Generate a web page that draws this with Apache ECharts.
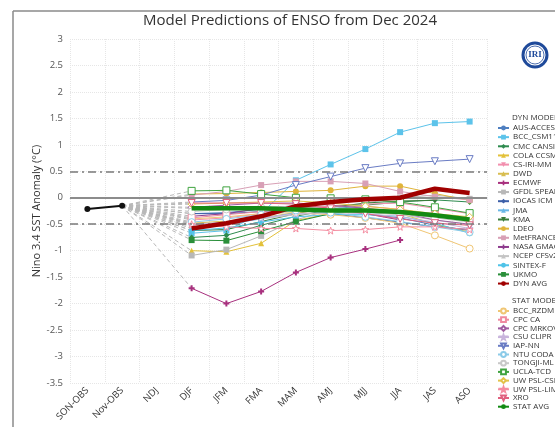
<!DOCTYPE html>
<html><head><meta charset="utf-8">
<script src="https://cdn.jsdelivr.net/npm/echarts/dist/echarts.min.js"></script>
<style>html,body{margin:0;padding:0;background:#fff}#c{width:555px;height:427px}</style>
</head><body><div id="c"></div>
<script>
// ---------- DATA ----------
const categories = ['SON-OBS','Nov-OBS','NDJ','DJF','JFM','FMA','MAM','AMJ','MJJ','JJA','JAS','ASO'];
const yTicks = [-3.5,-3,-2.5,-2,-1.5,-1,-0.5,0,0.5,1,1.5,2,2.5,3];
const SON_OBS = -0.21;
const NOV_OBS = -0.15;
// forecasts: DJF, JFM, FMA, MAM, AMJ, MJJ, JJA, JAS, ASO
const AUS_ACCESS   = [-0.30,-0.28,-0.22,-0.18,-0.22,-0.30,-0.38,-0.52,-0.62];
const BCC_CSM11m   = [-0.67,-0.62,-0.30, 0.33, 0.63, 0.92, 1.24, 1.41, 1.44];
const CMC_CANSIP   = [-0.75,-0.71,-0.52,-0.35,-0.22,-0.14,-0.08,-0.04,-0.08];
const COLA_CCSM4   = [-1.00,-1.02,-0.86,-0.43,-0.30,-0.25,-0.30,-0.50,-0.65];
const CS_IRI_MM    = [-0.42,-0.38,-0.30,-0.22,-0.16,-0.12,-0.10,-0.20,-0.30];
const DWD          = [-0.48,-0.44,-0.38,-0.28,-0.22,-0.20,-0.25];
const ECMWF        = [-1.71,-2.00,-1.77,-1.41,-1.13,-0.97,-0.80];
const GFDL_SPEAR   = [-1.09,-0.98,-0.72,-0.42,-0.22,-0.10, 0.00, 0.05,-0.02];
const IOCAS_ICM    = [-0.30,-0.30,-0.26,-0.22,-0.30,-0.38,-0.46,-0.55,-0.60];
const JMA          = [-0.55,-0.50,-0.40,-0.28,-0.20,-0.18];
const KMA          = [-0.62,-0.60,-0.45,-0.30,-0.18,-0.10,-0.06,-0.05];
const LDEO         = [ 0.07, 0.08, 0.10, 0.12, 0.14, 0.22, 0.22, 0.08,-0.05];
const MetFRANCE    = [ 0.05, 0.12, 0.24, 0.31, 0.31, 0.27, 0.12, 0.02,-0.04];
const NASA_GMAO    = [-0.35,-0.30,-0.20,-0.15,-0.20,-0.30,-0.42];
const NCEP_CFSv2   = [-0.50,-0.46,-0.40,-0.32,-0.28,-0.28,-0.32,-0.42,-0.52];
const SINTEX_F     = [-0.62,-0.57,-0.46,-0.36,-0.32,-0.32,-0.35,-0.48,-0.67];
const UKMO         = [-0.80,-0.81,-0.63,-0.45,-0.30,-0.20];
const DYN_AVG      = [-0.58,-0.48,-0.35,-0.16,-0.08,-0.03, 0.00, 0.17, 0.09];

const BCC_RZDM     = [-0.40,-0.36,-0.30,-0.28,-0.32,-0.38,-0.48,-0.71,-0.96];
const CPC_CA       = [-0.38,-0.32,-0.26,-0.20,-0.16,-0.16,-0.22,-0.32,-0.42];
const CPC_MRKOV    = [-0.18,-0.14,-0.10,-0.10,-0.14,-0.20,-0.28,-0.42,-0.50];
const CSU_CLIPR    = [-0.52,-0.46,-0.38,-0.30,-0.28,-0.30,-0.36,-0.46,-0.58];
const IAP_NN       = [-0.08,-0.05, 0.05, 0.24, 0.40, 0.56, 0.65, 0.69, 0.73];
const NTU_CODA     = [-0.46,-0.40,-0.32,-0.24,-0.28,-0.36,-0.45,-0.55,-0.65];
const TONGJI_ML    = [-0.26,-0.22,-0.18,-0.16,-0.20,-0.24,-0.30,-0.38,-0.46];
const UCLA_TCD     = [ 0.13, 0.14, 0.07, 0.00,-0.01,-0.03,-0.08,-0.18,-0.29];
const UW_PSL_CSLIM = [-0.12,-0.10,-0.08,-0.06,-0.10,-0.16,-0.22,-0.30,-0.36];
const UW_PSL_LIM   = [-0.50,-0.55,-0.58,-0.58,-0.62,-0.60,-0.55,-0.55,-0.60];
const XRO          = [-0.10,-0.10,-0.10,-0.12,-0.20,-0.30,-0.40,-0.48,-0.52];
const STAT_AVG     = [-0.20,-0.20,-0.20,-0.22,-0.24,-0.24,-0.27,-0.33,-0.41];

// ---------- STYLE ----------
const PLUS = 'path://M-1,-3H1V-1H3V1H1V3H-1V1H-3V-1H-1Z';
const STAR = 'path://M0,-10L2.4,-3.1L9.5,-3.1L3.8,1.2L5.9,8.1L0,4L-5.9,8.1L-3.8,1.2L-9.5,-3.1L-2.4,-3.1Z';
const dyn = [
  ['AUS-ACCESS', AUS_ACCESS, '#4f7fc0', 'circle', 0],
  ['BCC_CSM11m', BCC_CSM11m, '#5cc3ea', 'rect', 0],
  ['CMC CANSIP', CMC_CANSIP, '#2e8b4f', 'diamond', 0],
  ['COLA CCSM4', COLA_CCSM4, '#e3c13a', 'triangle', 0],
  ['CS-IRI-MM', CS_IRI_MM, '#f28fae', 'triangle', 180],
  ['DWD', DWD, '#d8bd50', 'triangle', 0],
  ['ECMWF', ECMWF, '#a8307e', PLUS, 0],
  ['GFDL SPEAR', GFDL_SPEAR, '#b8b8b8', 'rect', 0],
  ['IOCAS ICM', IOCAS_ICM, '#3d5fa8', 'diamond', 0],
  ['JMA', JMA, '#6ab7e6', 'triangle', 0],
  ['KMA', KMA, '#3a7d3a', 'triangle', 180],
  ['LDEO', LDEO, '#e0b43a', 'circle', 0],
  ['MetFRANCE', MetFRANCE, '#d8a0b6', 'rect', 0],
  ['NASA GMAO', NASA_GMAO, '#8e3c8e', PLUS, 0],
  ['NCEP CFSv2', NCEP_CFSv2, '#c4c4c4', 'triangle', 0],
  ['SINTEX-F', SINTEX_F, '#4fc3e8', 'circle', 0],
  ['UKMO', UKMO, '#2a8f3a', 'rect', 0]
];
const stat = [
  ['BCC_RZDM', BCC_RZDM, '#f0c674', 'circle', 0],
  ['CPC CA', CPC_CA, '#ef8aa0', 'rect', 0],
  ['CPC MRKOV', CPC_MRKOV, '#a05ca0', 'diamond', 0],
  ['CSU CLIPR', CSU_CLIPR, '#c8b4dc', STAR, 0],
  ['IAP-NN', IAP_NN, '#6a7cc4', 'triangle', 180],
  ['NTU CODA', NTU_CODA, '#8ccbe8', 'circle', 0],
  ['TONGJI-ML', TONGJI_ML, '#c8c8c8', 'circle', 0],
  ['UCLA-TCD', UCLA_TCD, '#3fa33f', 'rect', 0],
  ['UW PSL-CSLIM', UW_PSL_CSLIM, '#e3c34a', 'diamond', 0],
  ['UW PSL-LIM', UW_PSL_LIM, '#f48ca0', STAR, 0],
  ['XRO', XRO, '#e0607e', 'triangle', 180]
];

const pad = v => [null, null, null].concat(v);
const series = [];
series.push({
  name: 'OBS', type: 'line', data: [SON_OBS, NOV_OBS],
  lineStyle: {color: '#111', width: 2}, symbol: 'circle', symbolSize: 6,
  itemStyle: {color: '#111'}, z: 6, silent: true,
  markLine: {
    silent: true, symbol: 'none', label: {show: false},
    data: [
      {yAxis: 0, lineStyle: {color: '#8c8c8c', width: 2, type: 'solid'}},
      {yAxis: 0.5, lineStyle: {color: '#7a7a7a', width: 1.5, type: [8, 4, 2, 4]}},
      {yAxis: -0.5, lineStyle: {color: '#7a7a7a', width: 1.5, type: [8, 4, 2, 4]}}
    ]
  }
});
const all = dyn.map(d => d[1]).concat(stat.map(s => s[1])).concat([DYN_AVG, STAT_AVG]);
all.forEach(v => series.push({
  type: 'line', data: [[1, NOV_OBS], [3, v[0]]], symbol: 'none', silent: true,
  lineStyle: {color: '#b8b8b8', width: 1, type: [4, 3]}, z: 1
}));
dyn.forEach(d => series.push({
  name: d[0], type: 'line', data: pad(d[1]), symbol: d[3], symbolRotate: d[4], symbolSize: 6,
  lineStyle: {color: d[2], width: 1}, itemStyle: {color: d[2]}, z: 3
}));
stat.forEach(s => series.push({
  name: s[0], type: 'line', data: pad(s[1]), symbol: s[3], symbolRotate: s[4], symbolSize: 7,
  lineStyle: {color: s[2], width: 1}, itemStyle: {color: '#fff', borderColor: s[2], borderWidth: 1}, z: 3
}));
series.push({name: 'DYN AVG', type: 'line', data: pad(DYN_AVG), symbol: 'none',
  lineStyle: {color: '#a00000', width: 4.5}, itemStyle: {color: '#a00000'}, z: 5});
series.push({name: 'STAT AVG', type: 'line', data: pad(STAT_AVG), symbol: 'none',
  lineStyle: {color: '#138a13', width: 4.5}, itemStyle: {color: '#138a13'}, z: 5});

function legendOf(top, gap, names) {
  return {
    orient: 'vertical', left: 497, top: top, padding: 0, itemWidth: 11, itemHeight: 6, itemGap: gap,
    textStyle: {fontSize: 8, lineHeight: 8, color: '#333', fontFamily: 'Open Sans', padding: [0,0,0,-1]},
    selectedMode: false, data: names
  };
}
const chart = echarts.init(document.getElementById('c'), null, {renderer: 'canvas'});
chart.setOption({
  animation: false,
  backgroundColor: '#fff',
  textStyle: {fontFamily: 'Open Sans'},
  title: {text: 'Model Predictions of ENSO from Dec 2024', left: 138, top: 8,
    textStyle: {fontSize: 15, fontWeight: 'normal', color: '#333', fontFamily: 'Open Sans'}},
  grid: {left: 70, right: 68, top: 39, bottom: 44},
  legend: [
    legendOf(124, 1.15, dyn.map(d => d[0]).concat(['DYN AVG'])),
    legendOf(307, 0.7, stat.map(s => s[0]).concat(['STAT AVG']))
  ],
  xAxis: {
    type: 'category', data: categories, boundaryGap: true,
    axisLine: {lineStyle: {color: '#ccd6eb'}}, axisTick: {show: false},
    axisLabel: {rotate: 45, fontSize: 9.5, color: '#333', margin: 6, interval: 0},
    splitLine: {show: true, lineStyle: {color: '#e6e6e6', type: 'dotted'}}
  },
  yAxis: {
    type: 'value', min: yTicks[0], max: yTicks[yTicks.length - 1], interval: 0.5,
    name: 'Nino 3.4 SST Anomaly (°C)', nameLocation: 'middle', nameGap: 28, nameMoveOverlap: false,
    nameTextStyle: {fontSize: 11, color: '#333'},
    axisLine: {show: false}, axisTick: {show: false},
    axisLabel: {fontSize: 9.5, color: '#555', margin: 7},
    splitLine: {lineStyle: {color: '#e6e6e6', type: 'dotted'}}
  },
  graphic: [
    {type: 'line', shape: {x1: 13, y1: 11, x2: 555, y2: 11}, style: {stroke: '#8a8a8a', lineWidth: 1.5}},
    {type: 'line', shape: {x1: 13, y1: 11, x2: 13, y2: 427}, style: {stroke: '#8a8a8a', lineWidth: 1.5}},
    {type: 'text', left: 512, top: 114, style: {text: 'DYN MODELS', fontSize: 8, fill: '#333', fontFamily: 'Open Sans'}},
    {type: 'text', left: 512, top: 297, style: {text: 'STAT MODELS', fontSize: 8, fill: '#333', fontFamily: 'Open Sans'}},
    {type: 'circle', shape: {cx: 535, cy: 55, r: 12}, style: {fill: '#fff', stroke: '#1f4a9a', lineWidth: 3}},
    {type: 'circle', shape: {cx: 535, cy: 55, r: 9}, style: {fill: 'none', stroke: '#1f4a9a', lineWidth: 0.8}},
    {type: 'text', x: 535, y: 55, style: {text: 'IRI', fontSize: 9, fontWeight: 'bold', fill: '#1f4a9a', fontFamily: 'Liberation Serif', align: 'center', verticalAlign: 'middle'}}
  ],
  series: series
});
</script></body></html>
